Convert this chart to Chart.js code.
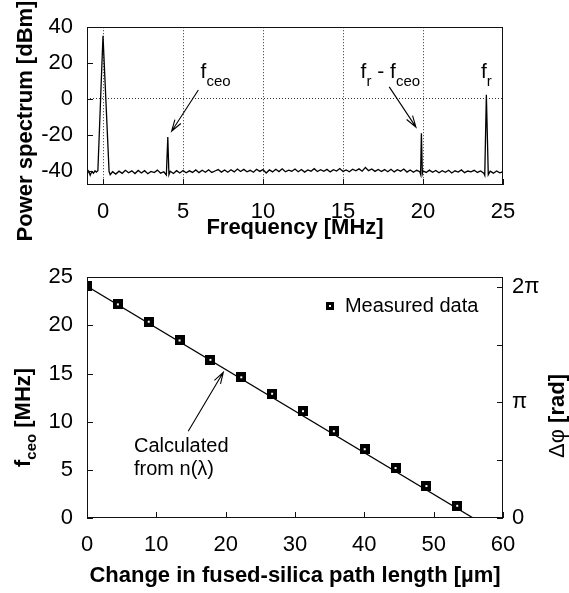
<!DOCTYPE html>
<html>
<head>
<meta charset="utf-8">
<script src="https://cdn.jsdelivr.net/npm/chart.js@4.4.1/dist/chart.umd.min.js"></script>
<style>
  html, body { margin: 0; padding: 0; background: #fff; }
  #wrap { position: relative; width: 569px; height: 593px; }
  canvas { position: absolute; left: 0; }
  #spectrum { top: 0; }
  #phase { top: 250px; }
</style>
</head>
<body>
<div id="wrap">
  <canvas id="spectrum" width="569" height="250"></canvas>
  <canvas id="phase" width="569" height="343"></canvas>
</div>
<script>
// ---- top panel: RF power spectrum ----
const spectrumFreq = [
  -1.0, -0.9, -0.8, -0.7, -0.6, -0.5, -0.42, -0.32, 0.0, 0.38,
  0.45, 0.6, 0.8, 1.0, 1.2, 1.4, 1.6, 1.8, 2.0, 2.2,
  2.4, 2.6, 2.8, 3.0, 3.2, 3.4, 3.6, 3.8, 3.96, 4.05,
  4.12, 4.2, 4.4, 4.6, 4.8, 5.0, 5.2, 5.4, 5.6, 5.8,
  6.0, 6.2, 6.4, 6.6, 6.8, 7.0, 7.2, 7.4, 7.6, 7.8,
  8.0, 8.2, 8.4, 8.6, 8.8, 9.0, 9.2, 9.4, 9.6, 9.8,
  10.0, 10.2, 10.4, 10.6, 10.8, 11.0, 11.2, 11.4, 11.6, 11.8,
  12.0, 12.2, 12.4, 12.6, 12.8, 13.0, 13.2, 13.4, 13.6, 13.8,
  14.0, 14.2, 14.4, 14.6, 14.8, 15.0, 15.2, 15.4, 15.6, 15.8,
  16.0, 16.2, 16.4, 16.6, 16.8, 17.0, 17.2, 17.4, 17.6, 17.8,
  18.0, 18.2, 18.4, 18.6, 18.8, 19.0, 19.2, 19.4, 19.6, 19.8,
  19.85, 19.9, 19.96, 20.0, 20.2, 20.4, 20.6, 20.8, 21.0, 21.2,
  21.4, 21.6, 21.8, 22.0, 22.2, 22.4, 22.6, 22.8, 23.0, 23.2,
  23.4, 23.6, 23.8, 23.86, 23.96, 24.08, 24.2, 24.4, 24.6, 24.8,
  25.0
];
const spectrumDbm = [
  -41.8, -40.2, -42.6, -40.5, -41.4, -40.1, -40.8, -40.0, 35.2, -40.5,
  -42.2, -40.6, -41.9, -40.3, -41.5, -39.8, -41.2, -40.1, -41.6, -39.9,
  -41.3, -40.0, -41.7, -40.4, -41.1, -39.7, -41.4, -40.6, -42.4, -21.2,
  -42.2, -40.3, -41.6, -40.0, -41.3, -39.9, -41.2, -40.1, -41.0, -39.6,
  -41.1, -39.8, -40.9, -39.5, -41.0, -40.2, -39.4, -40.8, -39.6, -40.9,
  -39.5, -40.7, -39.1, -40.5, -39.3, -40.6, -39.8, -40.9, -39.2, -40.4,
  -39.4, -41.3, -39.6, -40.7, -39.2, -40.5, -39.0, -40.6, -39.7, -40.3,
  -39.1, -40.6, -39.4, -40.8, -39.6, -40.3, -38.9, -40.5, -39.5, -40.4,
  -39.3, -40.7, -39.5, -40.2, -38.8, -40.4, -39.6, -40.6, -39.2, -40.1,
  -39.0, -40.3, -38.2, -40.0, -39.1, -40.4, -39.3, -40.5, -39.4, -40.6,
  -39.2, -40.7, -39.5, -40.3, -39.1, -40.8, -39.6, -40.9, -39.8, -40.6,
  -42.0, -19.2, -41.6, -40.2, -41.0, -39.7, -40.9, -39.9, -41.2, -40.0,
  -40.9, -39.8, -41.3, -40.1, -40.8, -39.6, -41.1, -40.2, -40.7, -39.8,
  -41.0, -40.2, -41.4, -42.6, 2.3, -42.3, -40.3, -41.4, -40.2, -41.2,
  -40.6
];
const spectrumFreqTicks = [0, 5, 10, 15, 20, 25];
const spectrumDbmTicks = [-40, -20, 0, 20, 40];

// ---- bottom panel: f_ceo vs. extra fused-silica path ----
const pathLength = [0, 4.45, 8.9, 13.35, 17.8, 22.25, 26.7, 31.15, 35.6, 40.05, 44.5, 48.95, 53.4];
const fceoMeasured = [24.06, 22.18, 20.38, 18.43, 16.42, 14.61, 12.9, 11.09, 9.01, 7.14, 5.19, 3.32, 1.27];
const calcPath = [0, 55.7];
const calcFceo = [24.06, 0];
const pathTicks = [0, 10, 20, 30, 40, 50, 60];
const fceoTicks = [0, 5, 10, 15, 20, 25];
const phaseTickValues = [0, Math.PI / 2, Math.PI, 3 * Math.PI / 2, 2 * Math.PI];
const phaseTickLabels = ["0", "", "\u03c0", "", "2\u03c0"];

const FAMILY = "'Liberation Sans', Arial, Helvetica, sans-serif";
const tickFont = { family: FAMILY, size: 22 };
Chart.defaults.font.family = FAMILY;
Chart.defaults.color = "#000";

function FixedTicks(list) {
  return function (scale) {
    scale.ticks = list.map(v => ({ value: v }));
  };
}

function DrawFrame(ctx, area) {
  ctx.save();
  ctx.strokeStyle = "#111";
  ctx.lineWidth = 1;
  ctx.strokeRect(Math.round(area.left) + 0.5, Math.round(area.top) + 0.5,
    Math.round(area.right - area.left) - 1, Math.round(area.bottom - area.top) - 1);
  ctx.restore();
}

// gnuplot style ticks pointing into the plot
function DrawInwardTicks(ctx, area, scale, side, len) {
  ctx.save();
  ctx.strokeStyle = "#111";
  ctx.lineWidth = 1;
  ctx.beginPath();
  scale.ticks.forEach(t => {
    const p = Math.round(scale.getPixelForValue(t.value)) + 0.5;
    if (side === "bottom") { ctx.moveTo(p, area.bottom); ctx.lineTo(p, area.bottom - len); }
    if (side === "left") { ctx.moveTo(area.left, p); ctx.lineTo(area.left + len, p); }
    if (side === "right") { ctx.moveTo(area.right, p); ctx.lineTo(area.right - len, p); }
  });
  ctx.stroke();
  ctx.restore();
}

function DrawArrow(ctx, x1, y1, x2, y2) {
  const ang = Math.atan2(y2 - y1, x2 - x1);
  const len = 12, spread = 0.3;
  ctx.save();
  ctx.strokeStyle = "#000";
  ctx.lineWidth = 1.1;
  ctx.beginPath();
  ctx.moveTo(x1, y1);
  ctx.lineTo(x2, y2);
  ctx.moveTo(x2 - len * Math.cos(ang - spread), y2 - len * Math.sin(ang - spread));
  ctx.lineTo(x2, y2);
  ctx.lineTo(x2 - len * Math.cos(ang + spread), y2 - len * Math.sin(ang + spread));
  ctx.stroke();
  ctx.restore();
}

// pieces = [{text, font, dy}] drawn one after another on a baseline
function DrawPieces(ctx, x, y, pieces) {
  pieces.forEach(p => {
    ctx.font = p.font;
    ctx.fillText(p.text, x, y + (p.dy || 0));
    x += ctx.measureText(p.text).width;
  });
  return x;
}

function PiecesWidth(ctx, pieces) {
  let w = 0;
  pieces.forEach(p => { ctx.font = p.font; w += ctx.measureText(p.text).width; });
  return w;
}

function MakeSquareMarker(size) {
  const c = document.createElement("canvas");
  c.width = size; c.height = size;
  const g = c.getContext("2d");
  g.fillStyle = "#000";
  g.fillRect(0, 0, size, size);
  g.fillStyle = "#fff";
  g.fillRect(size / 2 - 1, size / 2 - 1, 2, 2);
  return c;
}
const squareMarker = MakeSquareMarker(10);

const big = "21px " + FAMILY;
const sub = "15px " + FAMILY;
const boldTitle = "bold 22px " + FAMILY;

const spectrumDecor = {
  id: "spectrumDecor",
  afterDraw(chart) {
    const ctx = chart.ctx;
    const area = chart.chartArea;
    const sx = chart.scales.x, sy = chart.scales.y;
    DrawFrame(ctx, area);
    DrawInwardTicks(ctx, area, sx, "bottom", 6);
    DrawInwardTicks(ctx, area, sy, "left", 6);

    ctx.save();
    ctx.fillStyle = "#000";
    ctx.textBaseline = "alphabetic";
    ctx.textAlign = "left";
    const base = sy.getPixelForValue(11.9);
    DrawPieces(ctx, sx.getPixelForValue(6.1), base, [
      { text: "f", font: big }, { text: "ceo", font: sub, dy: 8 }]);
    DrawPieces(ctx, sx.getPixelForValue(16.1), base, [
      { text: "f", font: big }, { text: "r", font: sub, dy: 8 },
      { text: " - f", font: big }, { text: "ceo", font: sub, dy: 8 }]);
    DrawPieces(ctx, sx.getPixelForValue(23.62), base, [
      { text: "f", font: big }, { text: "r", font: sub, dy: 8 }]);

    DrawArrow(ctx, sx.getPixelForValue(5.96), sy.getPixelForValue(5.0),
      sx.getPixelForValue(4.29), sy.getPixelForValue(-18.0));
    DrawArrow(ctx, sx.getPixelForValue(17.89), sy.getPixelForValue(6.7),
      sx.getPixelForValue(19.56), sy.getPixelForValue(-15.7));

    // axis titles
    ctx.font = boldTitle;
    ctx.textAlign = "center";
    ctx.fillText("Frequency [MHz]", (area.left + area.right) / 2, 234);
    ctx.translate(31.5, 121);
    ctx.rotate(-Math.PI / 2);
    ctx.fillText("Power spectrum [dBm]", 0, 0);
    ctx.restore();
  }
};

let spectrumChart = new Chart(document.getElementById("spectrum"), {
  type: "line",
  data: {
    datasets: [{
      data: spectrumFreq.map((f, i) => ({ x: f, y: spectrumDbm[i] })),
      borderColor: "#000",
      borderWidth: 1.3,
      pointRadius: 0,
      tension: 0,
      fill: false
    }]
  },
  options: {
    responsive: false,
    animation: false,
    devicePixelRatio: 1,
    layout: { padding: { top: 19, right: 66, bottom: 0, left: 0 } },
    plugins: { legend: { display: false }, tooltip: { enabled: false } },
    scales: {
      x: {
        type: "linear", min: -1, max: 25,
        afterFit: s => { s.height = 65; },
        afterBuildTicks: FixedTicks(spectrumFreqTicks),
        ticks: { font: tickFont, color: "#000", padding: 14, maxRotation: 0, autoSkip: false },
        grid: {
          drawTicks: false, lineWidth: 1,
          color: c => (c.tick && c.tick.value < 25) ? "#333" : "rgba(0,0,0,0)"
        },
        border: { display: false, dash: [1, 2] }
      },
      y: {
        type: "linear", min: -48, max: 40,
        afterFit: s => { s.width = 87; },
        afterBuildTicks: FixedTicks(spectrumDbmTicks),
        ticks: { font: tickFont, color: "#000", padding: 14, autoSkip: false },
        grid: {
          drawTicks: false, lineWidth: 1,
          color: c => (c.tick && c.tick.value === 0) ? "#333" : "rgba(0,0,0,0)"
        },
        border: { display: false, dash: [1, 2] }
      }
    }
  },
  plugins: [spectrumDecor]
});

const phaseDecor = {
  id: "phaseDecor",
  afterDraw(chart) {
    const ctx = chart.ctx;
    const area = chart.chartArea;
    const sx = chart.scales.x, sy = chart.scales.y, sy2 = chart.scales.y2;
    DrawFrame(ctx, area);
    DrawInwardTicks(ctx, area, sx, "bottom", 6);
    DrawInwardTicks(ctx, area, sy, "left", 6);
    DrawInwardTicks(ctx, area, sy2, "right", 6);

    ctx.save();
    ctx.fillStyle = "#000";
    // legend
    const lx = sx.getPixelForValue(35.1), ly = sy.getPixelForValue(22.0);
    ctx.drawImage(squareMarker, Math.round(lx) - 4, Math.round(ly) - 4, 8, 8);
    ctx.fillStyle = "#fff";
    ctx.fillRect(Math.round(lx) - 1, Math.round(ly) - 1, 2, 2);
    ctx.fillStyle = "#000";
    ctx.font = "20px " + FAMILY;
    ctx.textAlign = "left";
    ctx.textBaseline = "middle";
    ctx.fillText("Measured data", sx.getPixelForValue(37.2), ly);

    // annotation for the calculated line
    ctx.fillText("Calculated", sx.getPixelForValue(6.78), sy.getPixelForValue(7.4));
    ctx.fillText("from n(\u03bb)", sx.getPixelForValue(6.78), sy.getPixelForValue(5.0));
    DrawArrow(ctx, sx.getPixelForValue(14.6), sy.getPixelForValue(9.0),
      sx.getPixelForValue(19.66), sy.getPixelForValue(15.13));

    // x title
    ctx.textBaseline = "alphabetic";
    ctx.textAlign = "center";
    ctx.font = boldTitle;
    ctx.fillText("Change in fused-silica path length [\u00b5m]", (area.left + area.right) / 2, 332);

    // left title, reads upward
    ctx.save();
    ctx.translate(30, 217);
    ctx.rotate(-Math.PI / 2);
    ctx.textAlign = "left";
    DrawPieces(ctx, 0, 0, [
      { text: "f", font: boldTitle },
      { text: "ceo", font: "bold 15px " + FAMILY, dy: 6 },
      { text: " [MHz]", font: boldTitle }]);
    ctx.restore();

    // right title
    const rightPieces = [
      { text: "\u0394\u03c6", font: "22px " + FAMILY },
      { text: " [rad]", font: boldTitle }];
    ctx.save();
    ctx.translate(564, 166);
    ctx.rotate(-Math.PI / 2);
    ctx.textAlign = "left";
    DrawPieces(ctx, -PiecesWidth(ctx, rightPieces) / 2, 0, rightPieces);
    ctx.restore();
    ctx.restore();
  }
};

const hiddenGrid = { drawTicks: false, drawOnChartArea: false };

let phaseChart = new Chart(document.getElementById("phase"), {
  type: "scatter",
  data: {
    datasets: [{
      label: "Measured data",
      data: pathLength.map((x, i) => ({ x: x, y: fceoMeasured[i] })),
      pointStyle: squareMarker,
      pointRadius: 5,
      showLine: false,
      order: 0
    }, {
      label: "Calculated",
      data: calcPath.map((x, i) => ({ x: x, y: calcFceo[i] })),
      showLine: true,
      borderColor: "#000",
      borderWidth: 1.3,
      pointRadius: 0,
      order: 1
    }]
  },
  options: {
    responsive: false,
    animation: false,
    devicePixelRatio: 1,
    layout: { padding: { top: 19, right: 0, bottom: 0, left: 0 } },
    plugins: { legend: { display: false }, tooltip: { enabled: false } },
    scales: {
      x: {
        type: "linear", min: 0, max: 60,
        afterFit: s => { s.height = 75; },
        afterBuildTicks: FixedTicks(pathTicks),
        ticks: { font: tickFont, color: "#000", padding: 14, maxRotation: 0, autoSkip: false },
        grid: hiddenGrid,
        border: { display: false }
      },
      y: {
        type: "linear", min: 0, max: 25,
        afterFit: s => { s.width = 87; },
        afterBuildTicks: FixedTicks(fceoTicks),
        ticks: { font: tickFont, color: "#000", padding: 14, autoSkip: false },
        grid: hiddenGrid,
        border: { display: false }
      },
      y2: {
        type: "linear", position: "right", min: 0, max: 2 * Math.PI * 25 / 24,
        afterFit: s => { s.width = 66; },
        afterBuildTicks: FixedTicks(phaseTickValues),
        ticks: {
          font: tickFont, color: "#000", padding: 9, autoSkip: false,
          callback: (v, i) => phaseTickLabels[i]
        },
        grid: hiddenGrid,
        border: { display: false }
      }
    }
  },
  plugins: [phaseDecor]
});
</script>
</body>
</html>
